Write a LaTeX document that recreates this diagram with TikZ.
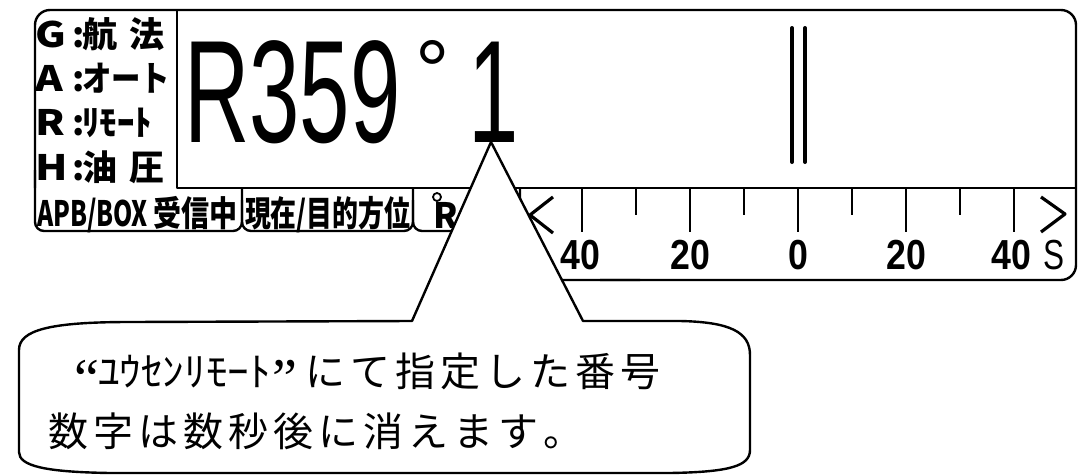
\documentclass[tikz,border=0pt]{standalone}
\usepackage{fontspec}
\setmainfont{Liberation Sans}
\newfontfamily\jp{Noto Sans CJK JP}
\newfontfamily\ls{Liberation Sans}
\newfontfamily\lser{Liberation Serif}
\makeatletter
\newcommand\spacedchars[2]{\@tfor\sc@c:=#2\do{\makebox[#1][l]{\sc@c}}}
\makeatother
\newcommand\lab[2]{\makebox[37pt][l]{\scalebox{1.2}[1]{#1}}\makebox[10pt][l]{:}#2}
\begin{document}
\begin{tikzpicture}[x=1pt,y=-1pt,line join=round,
  frame/.style={line width=2.4pt},
  inner/.style={line width=2pt},
  tick/.style={line width=2.2pt},
  chev/.style={line width=3.2pt},
  bar/.style={line width=4pt,line cap=round},
  txt/.style={inner sep=0pt,outer sep=0pt},
  labfont/.style={font=\jp\bfseries\fontsize{35}{35}\selectfont},
  bigfont/.style={font=\ls\fontsize{146}{146}\selectfont},
  numfont/.style={font=\ls\bfseries\fontsize{42}{42}\selectfont},
  msgfont/.style={font=\jp\fontsize{40}{40}\selectfont}]
\useasboundingbox (0,0) rectangle (1079,474);
% frame
\draw[frame,rounded corners=15pt] (35,188) -- (35,10) -- (1076,10) -- (1076,280) -- (600,280);
\draw[frame,rounded corners=10pt] (640,280) -- (520,280) -- (520,200);
\draw[inner] (177,10) -- (177,188) -- (1076,188);
% tabs
\draw[frame,rounded corners=9pt] (35,170) -- (35,231) -- (242,231) -- (242,188);
\draw[frame,rounded corners=9pt] (242,200) -- (242,231) -- (413,231) -- (413,188);
\draw[frame,rounded corners=9pt] (413,200) -- (413,231) -- (520,231) -- (520,188);
% left labels
\node[txt,labfont,anchor=base west] (lg) at (35,47) {\lab{G}{航\hspace{13pt}法}};
\node[txt,labfont,anchor=base west] (la) at (35,91) {\lab{A}{\scalebox{0.84}[1]{オート}}};
\node[txt,labfont,anchor=base west] (lr) at (35,135) {\lab{R}{ﾘﾓｰﾄ}};
\node[txt,labfont,anchor=base west] (lh) at (35,180) {\lab{H}{油\hspace{13pt}圧}};
% tab texts
\node[txt,labfont,anchor=base west] (apb) at (37,226) {\scalebox{0.7}[1]{APB/BOX}};
\node[txt,labfont,anchor=base west] (rx) at (153,226) {\scalebox{0.8}[1]{受信中}};
\node[txt,labfont,anchor=base west] (hd) at (245,226) {\scalebox{0.74}[1]{現在/目的方位}};
\node[txt,labfont,anchor=base west] (rt) at (433,228) {R};
\draw[line width=1.8pt] (437,197) circle (4);
% big reading
\node[txt,bigfont,anchor=base west] (big) at (184,142) {\scalebox{0.62}[1]{R359}};
\node[txt,anchor=base west,font=\ls\fontsize{86}{86}\selectfont] (deg) at (415,100) {°};
\node[txt,bigfont,anchor=base west] (one) at (468,142) {\scalebox{0.62}[1]{1}};
% bars
\draw[bar] (792,28) -- (792,162);
\draw[bar] (805,28) -- (805,162);
% scale
\foreach \x in {582,690,798,906,1014} \draw[tick] (\x,188) -- (\x,232);
\foreach \x in {636,744,852,960} \draw[tick] (\x,188) -- (\x,215);
\draw[chev] (553,197) -- (530,215) -- (553,233);
\draw[chev] (1041,197) -- (1065,214) -- (1041,232);
\foreach \x/\t [count=\k] in {580/40,690/20,798/0,906/20,1011/40}
  \node[txt,numfont,anchor=base] (num\k) at (\x,269) {\scalebox{0.85}[1]{\t}};
\node[txt,anchor=base,font=\ls\fontsize{42}{42}\selectfont] (s) at (1054,269) {\scalebox{0.75}[1]{S}};
% callout
\draw[frame,fill=white] (412,321) -- (491,142) -- (583,321) -- (680,321)
  .. controls (730,322) and (750,332) .. (750,355) -- (750,450)
  .. controls (750,466) and (730,472) .. (670,473) -- (110,473)
  .. controls (45,472) and (19,466) .. (19,452) -- (19,350)
  .. controls (19,330) and (50,322) .. (130,322) -- cycle;
\node[txt,anchor=base west,font=\lser\fontsize{56}{56}\selectfont] (q1) at (74,397) {“};
\node[txt,msgfont,anchor=base west] (kana) at (98,386) {\scalebox{1.08}[1]{ﾕｳｾﾝﾘﾓｰﾄ}};
\node[txt,anchor=base west,font=\lser\fontsize{56}{56}\selectfont] (q2) at (272,397) {”};
\node[txt,msgfont,anchor=base west] (m1) at (305,386) {\spacedchars{45pt}{にて指定した番号}};
\node[txt,msgfont,anchor=base west] (m2) at (48,446) {\spacedchars{45pt}{数字は数秒後に消えます。}};
\end{tikzpicture}
\end{document}
